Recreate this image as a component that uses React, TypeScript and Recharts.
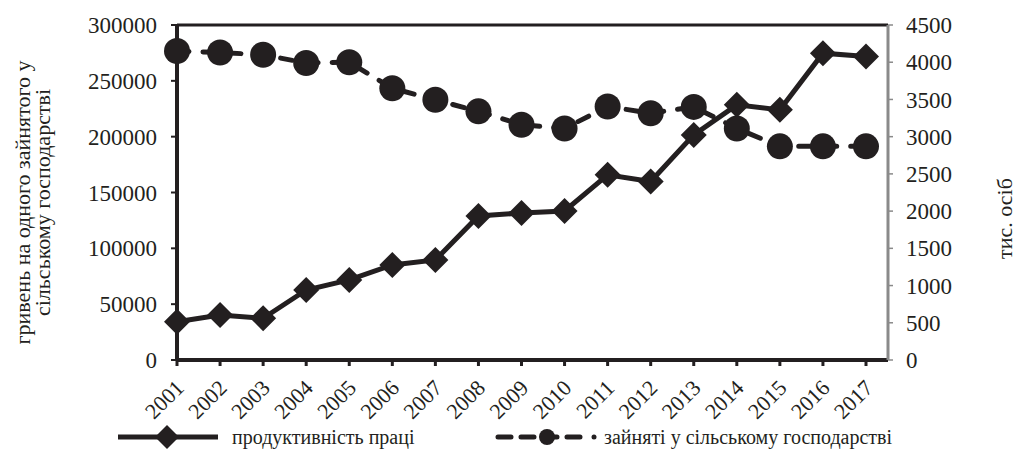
import React from "react"
import {
  LineChart,
  Line,
  XAxis,
  YAxis,
  ReferenceLine,
  Label,
} from "recharts"

// Years on the category axis
const years = [
  "2001", "2002", "2003", "2004", "2005", "2006", "2007", "2008", "2009",
  "2010", "2011", "2012", "2013", "2014", "2015", "2016", "2017",
]

// гривень на одного зайнятого (left axis)
const productivity = [
  34300, 40300, 37400, 62700, 71700, 85100, 89600, 129000, 131700,
  133500, 165800, 159800, 201600, 228500, 224000, 274800, 271800,
]

// тис. осіб (right axis)
const employed = [
  4150, 4130, 4100, 3990, 4000, 3650, 3495, 3340, 3160,
  3110, 3405, 3315, 3400, 3110, 2870, 2870, 2870,
]

const leftTicks = [0, 50000, 100000, 150000, 200000, 250000, 300000]
const rightTicks = [0, 500, 1000, 1500, 2000, 2500, 3000, 3500, 4000, 4500]

const INK = "#231f20"
const FONT = "'Liberation Serif', 'Times New Roman', serif"

const data = years.map((year, i) => ({
  year,
  productivity: productivity[i],
  employed: employed[i],
}))

const Diamond = (props: any) => {
  const { cx, cy } = props
  if (cx == null || cy == null) return null
  const s = 13
  return (
    <polygon
      points={`${cx},${cy - s} ${cx + s},${cy} ${cx},${cy + s} ${cx - s},${cy}`}
      fill={INK}
    />
  )
}

const YearTick = (props: any) => {
  const { x, y, payload } = props
  return (
    <g transform={`translate(${x - 3},${y + 10}) rotate(-45)`}>
      <text
        x={0}
        y={0}
        dy="0.72em"
        textAnchor="end"
        fill={INK}
        fontFamily={FONT}
        fontSize={22}
      >
        {payload.value}
      </text>
    </g>
  )
}

// legend sits under the plot, drawn by hand so it doesn't eat plot height
const LegendRow = () => (
  <svg
    width={1018}
    height={30}
    style={{ position: "absolute", left: 0, top: 422, display: "block" }}
  >
    <line x1={118} y1={15} x2={218} y2={15} stroke={INK} strokeWidth={5} />
    <polygon points="167,3 179,15 167,27 155,15" fill={INK} />
    <text x={232} y={22} fill={INK} fontFamily={FONT} fontSize={20}>
      продуктивність праці
    </text>
    <line
      x1={498}
      y1={15}
      x2={584}
      y2={15}
      stroke={INK}
      strokeWidth={5}
      strokeLinecap="round"
      strokeDasharray="13 10"
    />
    <circle cx={547} cy={15} r={8} fill={INK} />
    <circle cx={594} cy={15} r={2.5} fill={INK} />
    <text x={604} y={22} fill={INK} fontFamily={FONT} fontSize={20}>
      зайняті у сільському господарстві
    </text>
  </svg>
)

const leftTitle = (props: any) => {
  const vb = props.viewBox
  const cy = vb.y + vb.height / 2 + 10
  return (
    <g fontFamily={FONT} fontSize={22} fill={INK}>
      <text x={22} y={cy} transform={`rotate(-90 22 ${cy})`} textAnchor="middle" dy="0.35em">
        гривень на одного зайнятого у
      </text>
      <text x={42} y={cy} transform={`rotate(-90 42 ${cy})`} textAnchor="middle" dy="0.35em">
        сільському господарстві
      </text>
    </g>
  )
}

const rightTitle = (props: any) => {
  const vb = props.viewBox
  const cy = vb.y + vb.height / 2 + 26
  return (
    <text
      x={1004}
      y={cy}
      transform={`rotate(-90 1004 ${cy})`}
      textAnchor="middle"
      dy="0.35em"
      fontFamily={FONT}
      fontSize={22}
      fill={INK}
    >
      тис. осіб
    </text>
  )
}

export default function App() {
  return (
    <div style={{ position: "absolute", left: 0, top: 0, width: 1018, height: 452, background: "#fff" }}>
      <LineChart
        width={1018}
        height={452}
        data={data}
        margin={{ top: 25, right: 0, left: 0, bottom: 0 }}
      >
        <XAxis
          dataKey="year"
          padding={{ left: 0, right: 22 }}
          interval={0}
          tick={<YearTick />}
          tickSize={6}
          axisLine={{ stroke: INK, strokeWidth: 4 }}
          tickLine={{ stroke: INK, strokeWidth: 3 }}
          height={92}
        />
        <YAxis
          yAxisId="left"
          domain={[0, 300000]}
          ticks={leftTicks}
          interval={0}
          width={177}
          tickSize={6}
          tickMargin={14}
          axisLine={{ stroke: INK, strokeWidth: 4 }}
          tickLine={{ stroke: INK, strokeWidth: 2 }}
          tick={{ fill: INK, fontFamily: FONT, fontSize: 23 }}
        >
          <Label content={leftTitle} />
        </YAxis>
        <YAxis
          yAxisId="right"
          orientation="right"
          domain={[0, 4500]}
          ticks={rightTicks}
          interval={0}
          width={130}
          tickSize={5}
          tickMargin={13}
          axisLine={{ stroke: "#8a8a8a", strokeWidth: 3 }}
          tickLine={{ stroke: "#8a8a8a", strokeWidth: 1.5 }}
          tick={{ fill: INK, fontFamily: FONT, fontSize: 23, textAnchor: "start" }}
        >
          <Label content={rightTitle} />
        </YAxis>
        <ReferenceLine yAxisId="left" y={300000} stroke={INK} strokeWidth={3} />
        <Line
          yAxisId="right"
          dataKey="employed"
          stroke={INK}
          strokeWidth={5}
          strokeLinecap="round"
          strokeDasharray="12 14"
          dot={{ r: 13, fill: INK, stroke: "none" }}
          activeDot={false}
          isAnimationActive={false}
        />
        <Line
          yAxisId="left"
          dataKey="productivity"
          stroke={INK}
          strokeWidth={5}
          dot={<Diamond />}
          activeDot={false}
          isAnimationActive={false}
        />
      </LineChart>
      <LegendRow />
    </div>
  )
}
